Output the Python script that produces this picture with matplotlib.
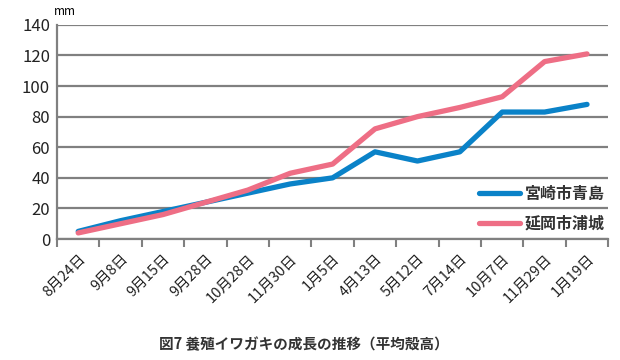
import matplotlib.pyplot as plt
import numpy as np

plt.rcParams['font.family'] = ['Noto Sans CJK JP', 'DejaVu Sans']

dates = ["8月24日", "9月8日", "9月15日", "9月28日", "10月28日", "11月30日", "1月5日",
         "4月13日", "5月12日", "7月14日", "10月7日", "11月29日", "1月19日"]
aoshima = [5, 12, 18, 24, 30, 36, 40, 57, 51, 57, 83, 83, 88]
urashiro = [4, 10, 16, 24, 32, 43, 49, 72, 80, 86, 93, 116, 121]

fig = plt.figure(figsize=(6.2, 3.6), dpi=100)
ax = fig.add_axes([0.092, 0.336, 0.889, 0.595])

x = np.arange(len(dates)) + 0.5
ax.plot(x, aoshima, color="#0a82c8", lw=3.8, label="宮崎市青島", solid_capstyle="round")
ax.plot(x, urashiro, color="#ee6e85", lw=3.8, label="延岡市浦城", solid_capstyle="round")

ax.set_xlim(0, len(dates))
ax.set_ylim(0, 140)
ax.set_yticks(range(0, 141, 20))
ax.tick_params(axis="y", labelsize=12, length=0, pad=5, colors="#222222")
ax.grid(axis="y", color="#808080", lw=1.6)
ax.set_axisbelow(True)

ax.set_xticks(np.arange(len(dates) + 1), minor=True)
ax.set_xticks(x)
ax.set_xticklabels(dates, rotation=45, ha="right", rotation_mode="anchor", fontsize=10.5,
                   color="#222222")
ax.tick_params(axis="x", which="major", length=0, pad=9)
ax.tick_params(axis="x", which="minor", length=6, width=1.5, color="#808080")

for s in ["top", "right"]:
    ax.spines[s].set_visible(False)
ax.spines["left"].set_color("#808080")
ax.spines["left"].set_linewidth(1.6)
ax.spines["bottom"].set_color("#808080")
ax.spines["bottom"].set_linewidth(1.6)

# unit label above the y axis
ax.text(-0.005, 1.03, "mm", transform=ax.transAxes, fontsize=8.5, ha="left", va="bottom")

leg = ax.legend(loc="lower right", bbox_to_anchor=(1.02, -0.03), frameon=False,
                fontsize=11.5, handlelength=2.6, handletextpad=0.3, labelspacing=0.85)
for t in leg.get_texts():
    t.set_fontweight("bold")
    t.set_color("#333333")

fig.text(0.49, 0.045, "図7 養殖イワガキの成長の推移（平均殻高）", ha="center", va="center",
         fontsize=10.5, fontweight="bold", color="#333333")

fig.savefig("out.png", dpi=100)
